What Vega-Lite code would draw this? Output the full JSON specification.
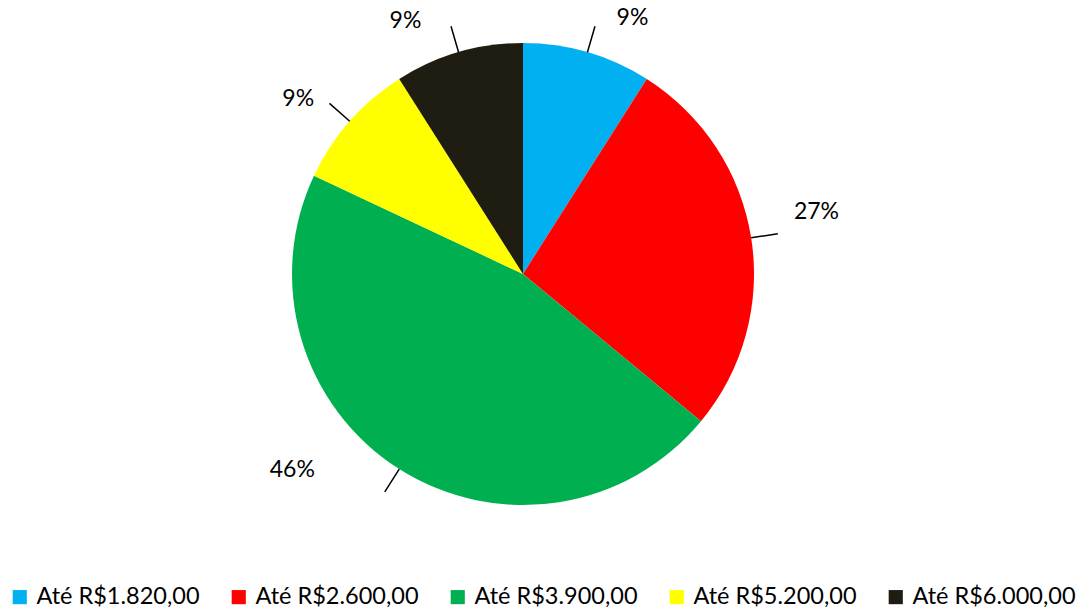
{
  "$schema": "https://vega.github.io/schema/vega-lite/v6.json",
  "width": 1046,
  "height": 548,
  "autosize": {"type": "none"},
  "padding": {"left": 0, "top": 0, "right": 38, "bottom": 64},
  "background": "white",
  "config": {"view": {"stroke": null}},
  "data": {
    "values": [
      {"faixa": "Até R$1.820,00", "pct": 9, "ordem": 1, "label": "9%"},
      {"faixa": "Até R$2.600,00", "pct": 27, "ordem": 2, "label": "27%"},
      {"faixa": "Até R$3.900,00", "pct": 46, "ordem": 3, "label": "46%"},
      {"faixa": "Até R$5.200,00", "pct": 9, "ordem": 4, "label": "9%"},
      {"faixa": "Até R$6.000,00", "pct": 9, "ordem": 5, "label": "9%"}
    ]
  },
  "encoding": {
    "theta": {"field": "pct", "type": "quantitative", "stack": true},
    "order": {"field": "ordem", "type": "quantitative"}
  },
  "layer": [
    {
      "mark": {"type": "arc", "outerRadius": 231},
      "encoding": {
        "color": {
          "field": "faixa",
          "type": "nominal",
          "scale": {
            "domain": ["Até R$1.820,00", "Até R$2.600,00", "Até R$3.900,00", "Até R$5.200,00", "Até R$6.000,00"],
            "range": ["#00B0F0", "#FF0000", "#00B050", "#FFFF00", "#1F1C12"]
          },
          "legend": {
            "title": null,
            "orient": "none",
            "direction": "horizontal",
            "legendX": 8,
            "legendY": 585,
            "padding": 0,
            "symbolType": "square",
            "symbolSize": 200,
            "symbolStrokeWidth": 0,
            "symbolOpacity": 1,
            "labelFont": "Lato",
            "labelFontSize": 23.5,
            "labelColor": "#000000",
            "labelOffset": 5,
            "columnPadding": 27,
            "labelLimit": 300
          }
        }
      }
    },
    {
      "mark": {"type": "arc", "radius": 258, "radius2": 231, "padAngle": 3, "fill": "transparent", "stroke": "#000000", "strokeWidth": 1.5}
    },
    {
      "mark": {"type": "text", "radius": 285, "dx": 30, "dy": 18, "font": "Lato", "fontSize": 23, "color": "#000000"},
      "encoding": {"text": {"condition": {"test": "datum.ordem == 1", "field": "label"}, "value": ""}}
    },
    {
      "mark": {"type": "text", "radius": 285, "dx": 12, "dy": -17, "font": "Lato", "fontSize": 23, "color": "#000000"},
      "encoding": {"text": {"condition": {"test": "datum.ordem == 2", "field": "label"}, "value": ""}}
    },
    {
      "mark": {"type": "text", "radius": 285, "dx": -78, "dy": -45, "font": "Lato", "fontSize": 23, "color": "#000000"},
      "encoding": {"text": {"condition": {"test": "datum.ordem == 3", "field": "label"}, "value": ""}}
    },
    {
      "mark": {"type": "text", "radius": 285, "dx": -11, "dy": 13, "font": "Lato", "fontSize": 23, "color": "#000000"},
      "encoding": {"text": {"condition": {"test": "datum.ordem == 4", "field": "label"}, "value": ""}}
    },
    {
      "mark": {"type": "text", "radius": 285, "dx": -38, "dy": 21, "font": "Lato", "fontSize": 23, "color": "#000000"},
      "encoding": {"text": {"condition": {"test": "datum.ordem == 5", "field": "label"}, "value": ""}}
    }
  ]
}
